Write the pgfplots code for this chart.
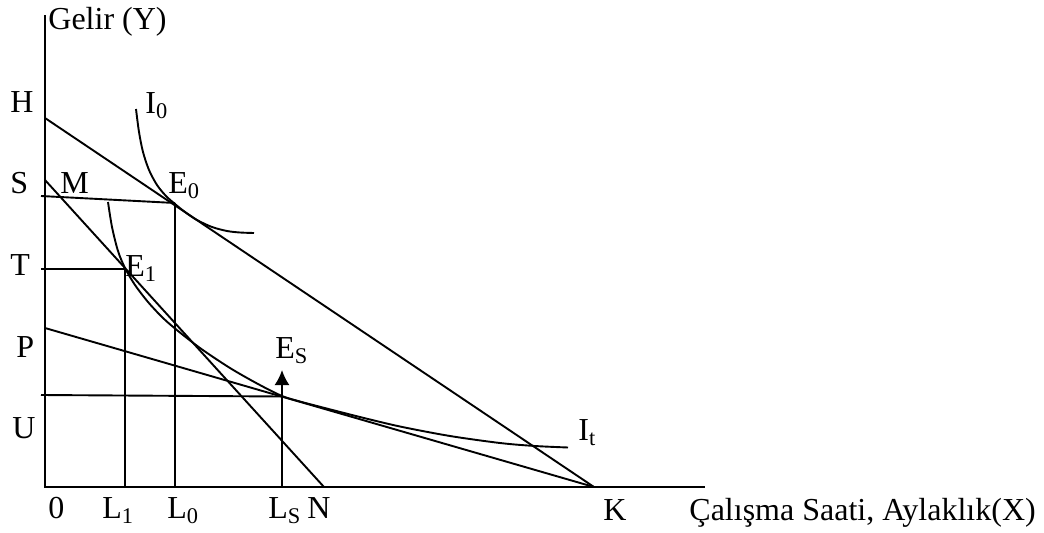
\documentclass[border=0pt]{standalone}
\usepackage{fontspec}
\setmainfont{Liberation Serif}
\usepackage{pgfplots}
\pgfplotsset{compat=1.18}
\usetikzlibrary{arrows.meta}
\begin{document}
\begin{tikzpicture}[every node/.style={font=\fontsize{16}{19}\selectfont, inner sep=0pt, anchor=base west}]
\begin{axis}[width=522pt, height=266pt, scale only axis,
  xmin=0, xmax=1044, ymin=0, ymax=532, hide axis, clip=false]
% bounding frame (invisible)
\addplot[draw=none] coordinates {(0,0) (1044,532)};
% axes
\addplot[black, line width=0.95pt] coordinates {(45,517) (45,45) (705,45)};
% budget line H-K
\addplot[black, line width=0.95pt] coordinates {(45,414) (594,45)};
% budget line S(M)-N
\addplot[black, line width=0.95pt] coordinates {(45,352) (324,45)};
% budget line P-K
\addplot[black, line width=0.95pt] coordinates {(45,204) (594,45)};
% horizontal S line to E0
\addplot[black, line width=0.95pt] coordinates {(41,336) (175,329)};
% vertical at L0
\addplot[black, line width=0.95pt] coordinates {(175,329) (175,45)};
% horizontal T line to E1
\addplot[black, line width=0.95pt] coordinates {(41,263) (125,263)};
% vertical at L1
\addplot[black, line width=0.95pt] coordinates {(125,263) (125,45)};
% horizontal U line
\addplot[black, line width=0.95pt] coordinates {(41,137) (282,135.5)};
% arrow at L_S
\addplot[black, line width=0.95pt, -{Latex[length=7.5pt,width=7.5pt]}] coordinates {(282,45) (282,162)};
% indifference curve I0
\addplot[black, line width=0.95pt, smooth] coordinates {
 (136,423) (139,400) (143,380) (149,362) (157,347) (166,336) (175,328)
 (185,320) (197,312) (212,305) (227,301) (240,299.5) (254,299)};
% indifference curve It
\addplot[black, line width=0.95pt, smooth] coordinates {
 (108,330) (112,305) (118,281) (125,264) (135,247) (148,230) (162,215)
 (175,203.5) (200,184) (230,164) (258,148) (282,136) (300,130.5)
 (317,126) (360,115) (400,105.5) (450,96) (500,89) (535,86) (568,84.5)};
% labels
\node at (axis cs:48,503) {Gelir (Y)};
\node at (axis cs:10,420) {H};
\node at (axis cs:145,419) {I\textsubscript{0}};
\node at (axis cs:10,339) {S};
\node at (axis cs:60,339) {M};
\node at (axis cs:168,339) {E\textsubscript{0}};
\node at (axis cs:10,257) {T};
\node at (axis cs:125,256) {E\textsubscript{1}};
\node at (axis cs:16,175) {P};
\node at (axis cs:275,174) {E\textsubscript{S}};
\node at (axis cs:12,94) {U};
\node at (axis cs:578,92) {I\textsubscript{t}};
\node at (axis cs:48,14) {0};
\node at (axis cs:102,14) {L\textsubscript{1}};
\node at (axis cs:167,14) {L\textsubscript{0}};
\node at (axis cs:268,14) {L\textsubscript{S}};
\node at (axis cs:307,14) {N};
\node at (axis cs:603,12) {K};
\node at (axis cs:689,12) {Çalışma Saati, Aylaklık(X)};
\end{axis}
\end{tikzpicture}
\end{document}
